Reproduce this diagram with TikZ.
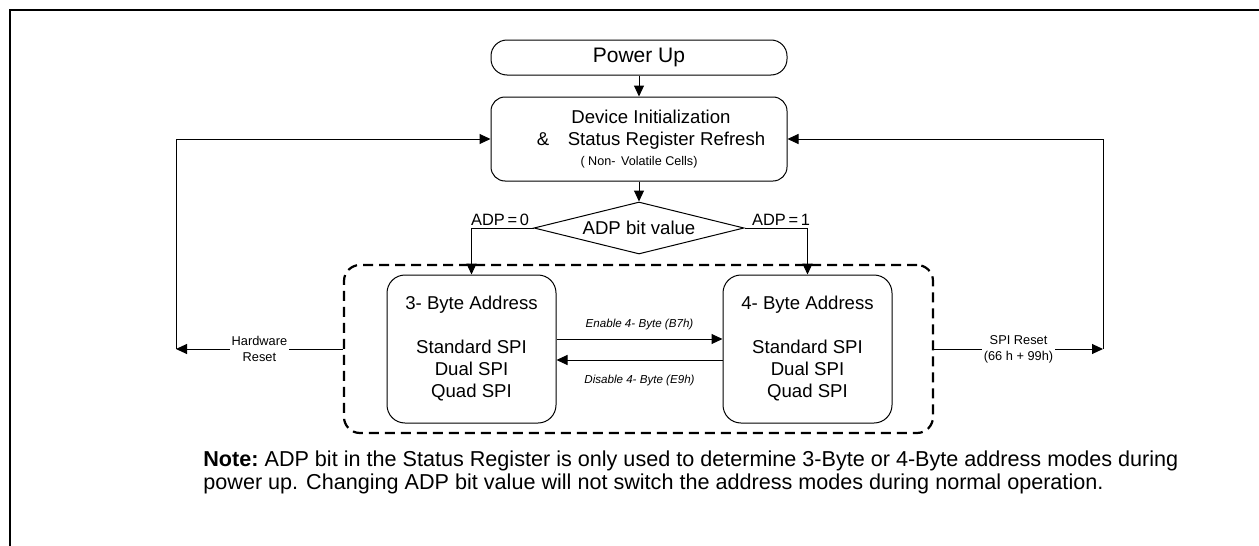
\documentclass[tikz,border=0pt]{standalone}
\usepackage{fontspec}
\setmainfont{Liberation Sans}
\usepackage{tikz}
\usetikzlibrary{arrows.meta,shapes.geometric}

\tikzset{
  flow/.style={line width=0.5pt, -{Triangle[length=5.5pt,width=5pt]}},
  stepbox/.style={draw, line width=0.5pt, rounded corners=7pt, align=center, inner sep=0pt},
  modebox/.style={stepbox, rounded corners=9pt, minimum width=84.5pt, minimum height=74pt,
    font=\fontsize{9.3}{11}\selectfont},
  resetlbl/.style={fill=white, align=center, inner sep=1pt, font=\fontsize{6.4}{8}\selectfont},
  adplbl/.style={above=0pt, inner sep=1pt, font=\fontsize{8.2}{9}\selectfont}
}

\begin{document}
\begin{tikzpicture}[x=0.5pt, y=-0.5pt]
  \useasboundingbox (0,0) rectangle (1259,546);

  % open frame
  \draw[line width=1.2pt] (10,546) -- (10,10) -- (1259,10);

  % flow nodes
  \node[stepbox, rounded corners=8pt, minimum width=148pt, minimum height=17.5pt,
    font=\fontsize{10.5}{12}\selectfont] (power) at (639,57.5) {Power Up};
  \node[stepbox, minimum width=148pt, minimum height=42pt,
    font=\fontsize{9.3}{11}\selectfont] (init) at (639,139)
    {\hspace*{12pt}Device Initialization\\
     \hspace*{12pt}\&\quad Status Register Refresh\\[-1pt]
     {\fontsize{6.3}{8}\selectfont ( Non-\, Volatile Cells)}};
  \node[draw, line width=0.5pt, shape=diamond, aspect=4, inner sep=0pt, minimum width=105pt,
    minimum height=26pt, font=\fontsize{9.3}{11}\selectfont] (adp) at (639,228) {ADP bit value};

  \node[draw, dashed, line width=1.1pt, dash pattern=on 5pt off 3pt, rounded corners=8pt,
    minimum width=294.5pt, minimum height=84pt] (modes) at (638.5,349) {};
  \node[modebox] (three) at (471.5,349)
    {3- Byte Address\\[11pt] Standard SPI\\ Dual SPI\\ Quad SPI};
  \node[modebox] (four) at (807.5,349)
    {4- Byte Address\\[11pt] Standard SPI\\ Dual SPI\\ Quad SPI};

  \coordinate (hw) at (176,349);
  \coordinate (spi) at (1103,349);

  % connectors
  \draw[flow] (power) -- (init);
  \draw[flow] (init) -- (adp);
  \draw[flow] (adp.west) -| node[pos=0.27, adplbl] {ADP\,=\,0} (three.north);
  \draw[flow] (adp.east) -| node[pos=0.29, adplbl] {ADP\,=\,1} (four.north);

  \draw[flow] ([yshift=5pt]three.east) -- node[above=1pt, font=\fontsize{5.8}{7}\selectfont\itshape]
    {Enable 4- Byte (B7h)} ([yshift=5pt]four.west);
  \draw[flow] ([yshift=-5.5pt]four.west) -- node[below=4pt, font=\fontsize{5.8}{7}\selectfont\itshape]
    {Disable 4- Byte (E9h)} ([yshift=-5.5pt]three.east);

  \draw[flow] (modes.west) -- node[resetlbl] {Hardware\\Reset} (hw);
  \draw[flow] (hw) |- (init.west);
  \draw[flow] (modes.east) -- node[resetlbl] {SPI Reset\\(66 h + 99h)} (spi);
  \draw[flow] (spi) |- (init.east);

  % note
  \node[anchor=north west, align=left, inner sep=0pt, font=\fontsize{10.8}{11.6}\selectfont] (note) at (203,450)
    {\textbf{Note:}~ADP bit in the Status Register is only used to determine 3-Byte or 4-Byte address modes during\\
     power up. Changing ADP bit value will not switch the address modes during normal operation.};
\end{tikzpicture}
\end{document}
